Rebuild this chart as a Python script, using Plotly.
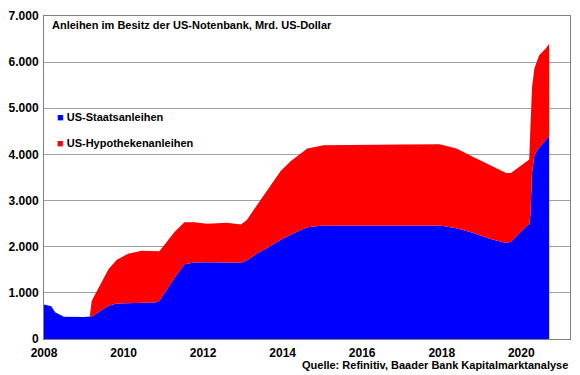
import plotly.graph_objects as go

# Years (decimal) and holdings in bn USD
years = [2008.00, 2008.18, 2008.28, 2008.40, 2008.50, 2009.00, 2009.15, 2009.20,
         2009.37, 2009.62, 2009.83, 2010.12, 2010.45, 2010.80, 2010.90, 2011.03,
         2011.28, 2011.53, 2011.78, 2012.10, 2012.60, 2012.95, 2013.10, 2013.37,
         2013.62, 2013.95, 2014.20, 2014.45, 2014.62, 2015.03, 2016.00, 2017.00,
         2017.95, 2018.37, 2018.78, 2019.20, 2019.62, 2019.74, 2019.95, 2020.15,
         2020.20, 2020.23, 2020.27, 2020.33, 2020.37, 2020.45, 2020.62, 2020.70]

treasuries = [745, 710, 580, 520, 480, 475, 480, 490,
              580, 720, 770, 775, 775, 790, 830, 1000,
              1320, 1620, 1660, 1665, 1660, 1650, 1700, 1860,
              1980, 2150, 2260, 2360, 2420, 2460, 2460, 2465,
              2460, 2400, 2300, 2170, 2080, 2110, 2300, 2460,
              2480, 2700, 3600, 3980, 4050, 4150, 4320, 4400]

mbs = [0, 0, 0, 0, 0, 0, 0, 340,
       520, 790, 950, 1075, 1135, 1100, 1070, 1040,
       1000, 910, 870, 835, 860, 830, 880, 1060,
       1250, 1490, 1590, 1660, 1710, 1740, 1740, 1750,
       1760, 1730, 1650, 1600, 1520, 1490, 1440, 1410,
       1410, 1900, 1850, 1890, 1930, 2000, 1980, 2000]

x_ticks = [2008, 2010, 2012, 2014, 2016, 2018, 2020]
y_ticks = [0, 1000, 2000, 3000, 4000, 5000, 6000, 7000]

series_names = ["US-Staatsanleihen", "US-Hypothekenanleihen"]
colors = ["#0000FF", "#FF0000"]

FONT = "Liberation Sans, Arial, sans-serif"

fig = go.Figure()
fig.add_trace(go.Scatter(x=years, y=treasuries, stackgroup="one", mode="lines",
                         line=dict(width=0, color=colors[0]), fillcolor=colors[0],
                         name=series_names[0], showlegend=False))
fig.add_trace(go.Scatter(x=years, y=mbs, stackgroup="one", mode="lines",
                         line=dict(width=0, color=colors[1]), fillcolor=colors[1],
                         name=series_names[1], showlegend=False))

annotations = [
    dict(text="<b>Anleihen im Besitz der US-Notenbank, Mrd. US-Dollar</b>",
         xref="paper", yref="paper", x=0.0113, y=0.9726, xanchor="left", yanchor="middle",
         showarrow=False, font=dict(family=FONT, size=11, color="#000000")),
    dict(text="<b>Quelle: Refinitiv, Baader Bank Kapitalmarktanalyse</b>",
         xref="paper", yref="paper", x=1.0, y=-0.079, xanchor="right", yanchor="middle",
         showarrow=False, font=dict(family=FONT, size=11, color="#000000")),
]
leg_y = [0.687, 0.608]
for name, col, yy in zip(series_names, colors, leg_y):
    annotations.append(dict(
        text=f'<span style="color:{col}">■</span> <b>{name}</b>',
        xref="paper", yref="paper", x=0.020, y=yy, xanchor="left", yanchor="middle",
        showarrow=False, font=dict(family=FONT, size=11, color="#000000")))

fig.update_layout(
    width=580, height=375,
    margin=dict(l=42, r=9, t=10, b=36),
    paper_bgcolor="white", plot_bgcolor="white",
    separators=",.",
    showlegend=False,
    annotations=annotations,
    xaxis=dict(range=[2008, 2021.225], tickmode="array", tickvals=x_ticks,
               ticktext=[str(v) for v in x_ticks], showgrid=False, zeroline=False,
               showline=True, linecolor="#808080", linewidth=1, mirror=True,
               ticks="", ticklabelstandoff=3,
               tickfont=dict(family=FONT, size=12, color="#000000", weight="bold")),
    yaxis=dict(range=[0, 7000], tickmode="array", tickvals=y_ticks, tickformat=",d",
               showgrid=True, gridcolor="#A0A0A0", gridwidth=1, zeroline=False,
               showline=True, linecolor="#808080", linewidth=1, mirror=True,
               ticks="", ticklabelstandoff=2,
               tickfont=dict(family=FONT, size=12, color="#000000", weight="bold")),
)

fig.write_html("out.html",
               config={"displayModeBar": False},
               post_script="document.body.style.margin='0';document.body.style.overflow='hidden';")
